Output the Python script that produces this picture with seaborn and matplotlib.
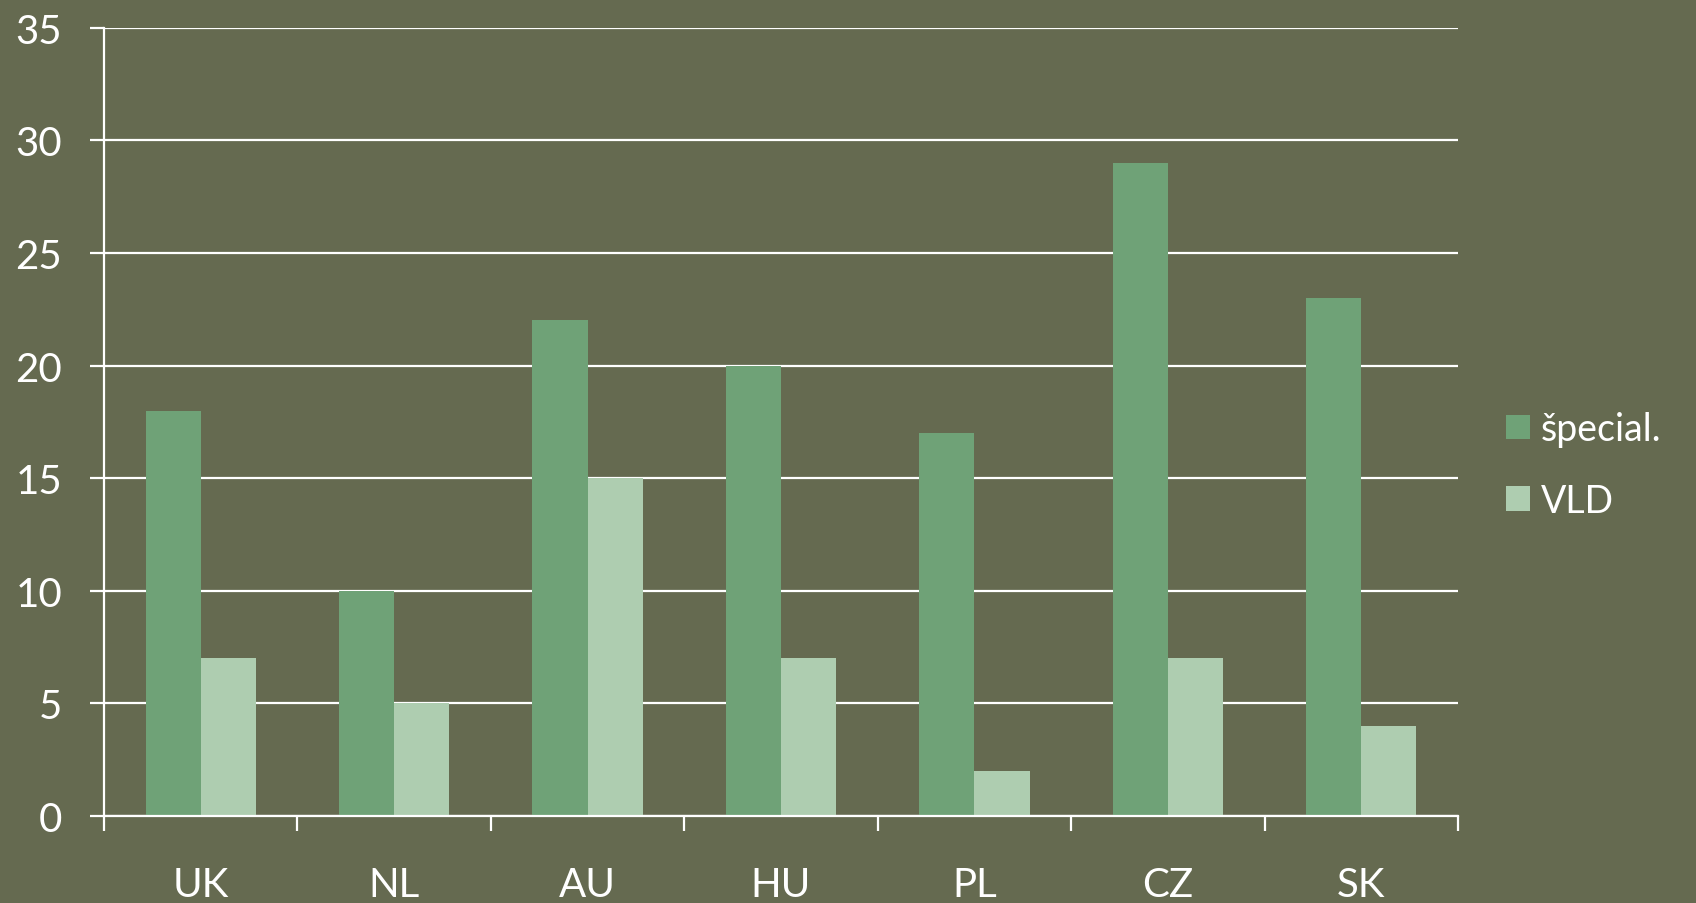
import matplotlib
matplotlib.use("Agg")
import matplotlib.pyplot as plt
import seaborn as sns
import pandas as pd
import numpy as np

countries = ["UK", "NL", "AU", "HU", "PL", "CZ", "SK"]
special = [18, 10, 22, 20, 17, 29, 23]
vld = [7, 5, 15, 7, 2, 7, 4]
series_names = ["špecial.", "VLD"]
yticks = [0, 5, 10, 15, 20, 25, 30, 35]

df = pd.DataFrame({
    "country": countries * 2,
    "value": special + vld,
    "series": [series_names[0]] * len(countries) + [series_names[1]] * len(countries),
})

bg = "#656a50"
dark = "#6fa277"
light = "#aecdb0"

sns.set_theme(style="white")
plt.rcParams["font.family"] = ["Lato", "DejaVu Sans"]

fig = plt.figure(figsize=(16.96, 9.04), dpi=100, facecolor=bg)
ax = fig.add_axes([0.0613, 0.0962, 0.7984, 0.8721])
ax.set_facecolor(bg)

sns.barplot(data=df, x="country", y="value", hue="series", order=countries,
            hue_order=series_names, palette=[dark, light], width=0.57,
            saturation=1, ax=ax, zorder=3, linewidth=0)

ax.set_ylim(0, 35)
ax.set_xlim(-0.5, len(countries) - 0.5)
ax.set_yticks(yticks)
ax.set_yticklabels([str(t) for t in yticks])
ax.yaxis.grid(True, color="white", linewidth=1.6, zorder=1)
ax.set_axisbelow(True)

# x ticks at category boundaries, labels at centers
ax.set_xticks(np.arange(-0.5, len(countries)), minor=False)
ax.set_xticklabels([])
ax.set_xticks(np.arange(len(countries)), minor=True)
ax.set_xticklabels(countries, minor=True)
ax.tick_params(axis="x", which="major", length=11, width=1.6, color="white", direction="out", bottom=True)
ax.tick_params(axis="x", which="minor", length=0, pad=36, labelsize=29, labelcolor="white")
ax.tick_params(axis="y", length=10, width=1.6, color="white", direction="out", left=True,
               pad=20, labelsize=29, labelcolor="white")

for s in ["top", "right"]:
    ax.spines[s].set_visible(False)
for s in ["left", "bottom"]:
    ax.spines[s].set_color("white")
    ax.spines[s].set_linewidth(1.6)
    ax.spines[s].set_zorder(4)

ax.set_xlabel("")
ax.set_ylabel("")

leg = ax.legend(loc="center left", frameon=False,
                fontsize=27, labelcolor="white", handlelength=0.64, handleheight=0.64,
                handletextpad=0.3, labelspacing=0.95, borderaxespad=0, borderpad=0)
leg.set_bbox_to_anchor((1506 / 1696, 1 - 466 / 904), transform=fig.transFigure)

fig.savefig("out.png", dpi=100, facecolor=bg)
